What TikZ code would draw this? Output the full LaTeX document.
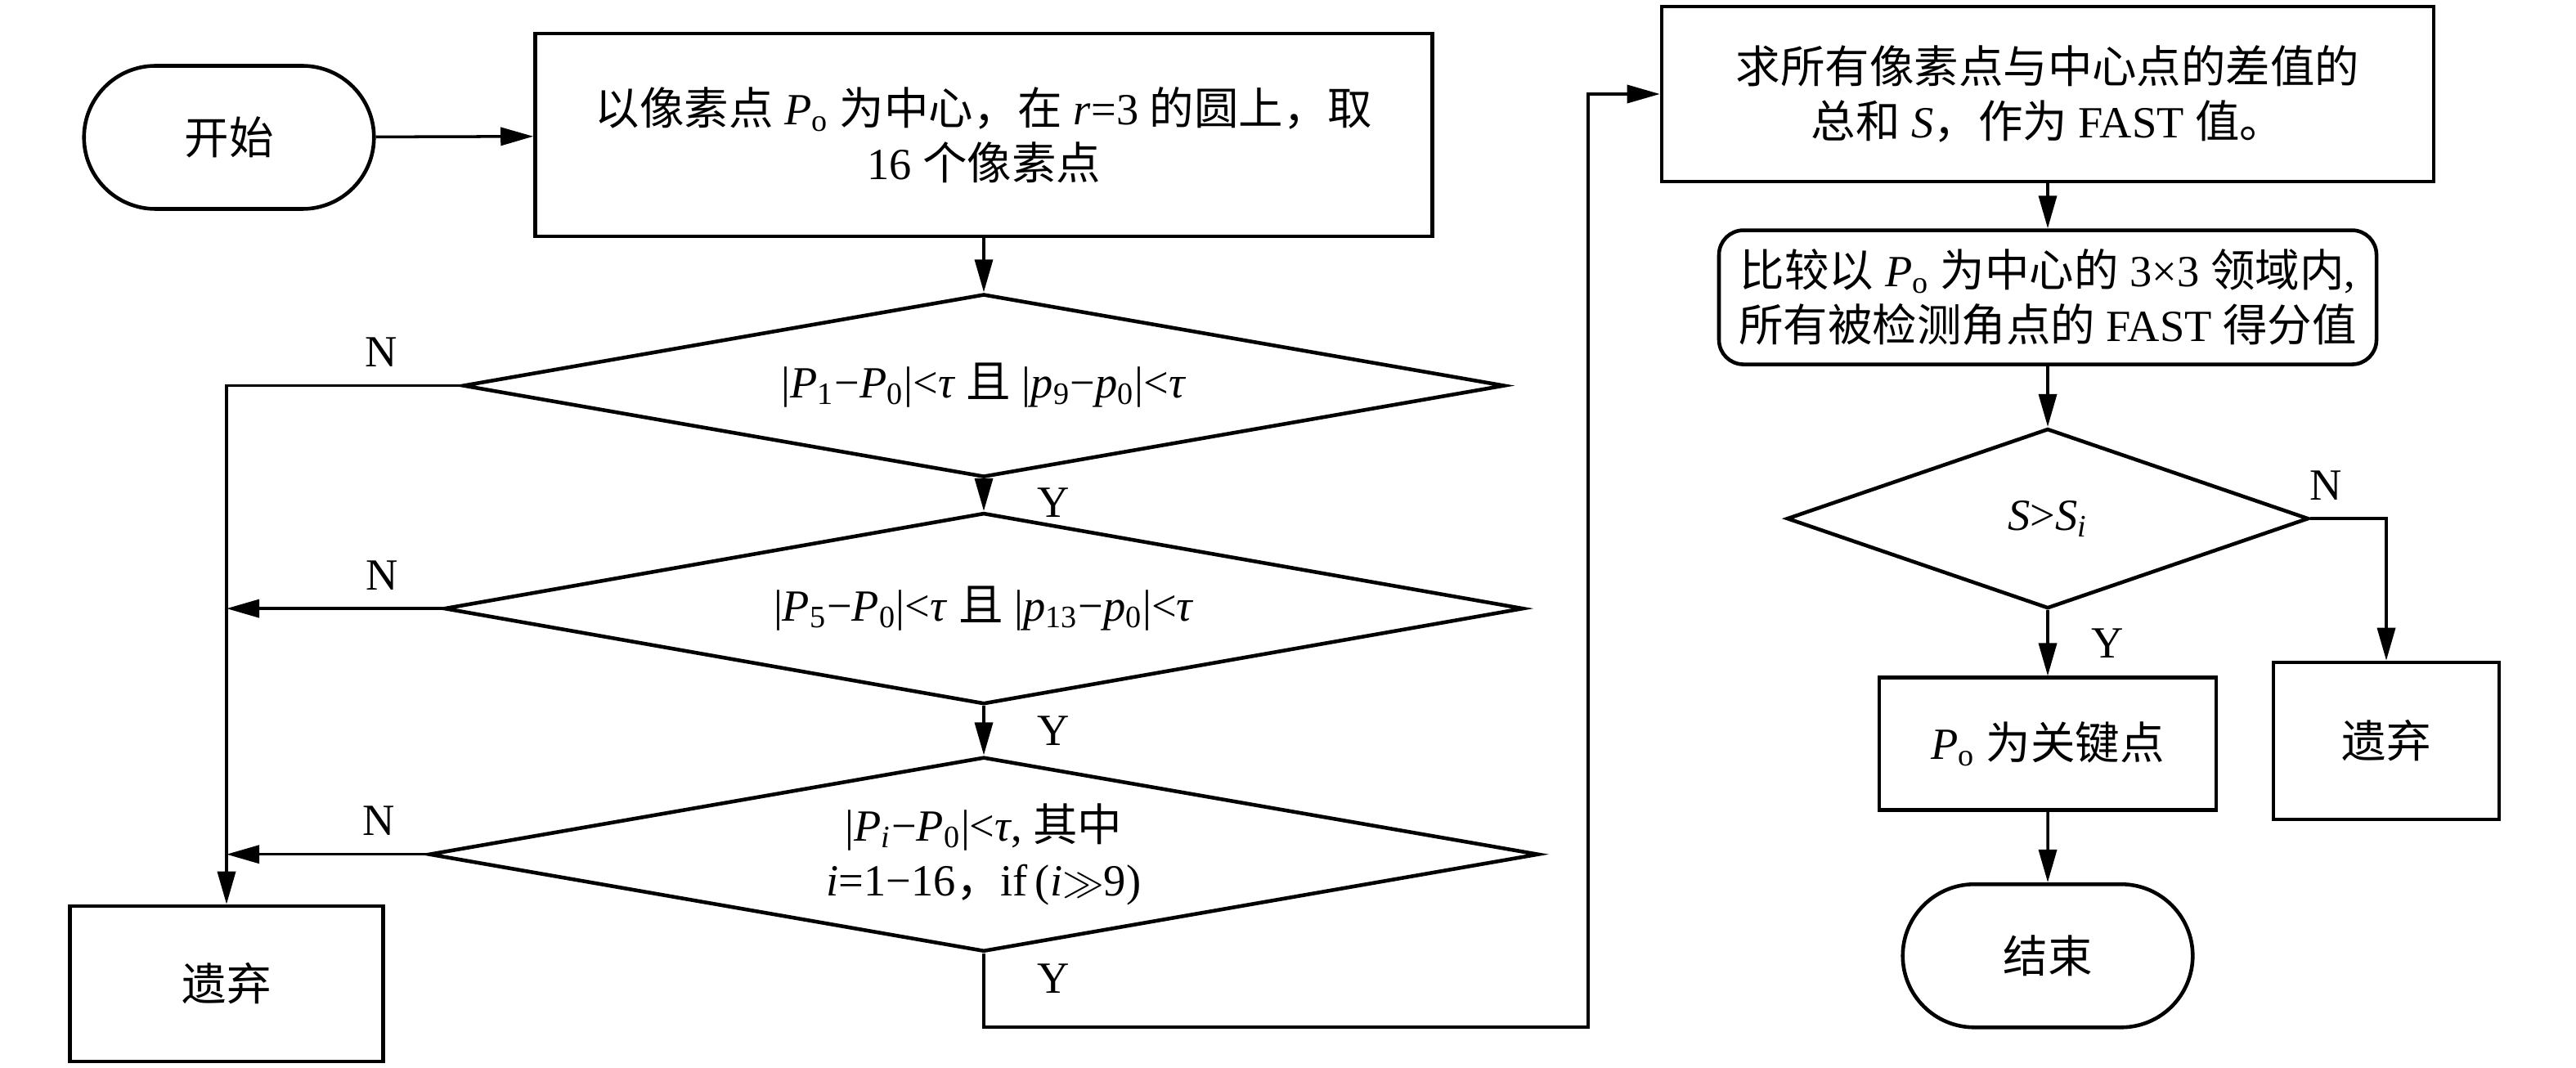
\documentclass[tikz,border=0pt]{standalone}
\usepackage{fontspec}
\setmainfont{Liberation Serif}
\newfontfamily\cjkfont{Noto Sans CJK SC}
\newcommand{\zh}[1]{{\cjkfont #1}}
\usetikzlibrary{arrows.meta, positioning, shapes.geometric, shapes.misc}

\begin{document}
\begin{tikzpicture}[
    node distance=6.6mm,
    font=\fontsize{15.5}{19}\selectfont,
    box/.style={draw, line width=1.3pt, align=center, inner sep=2pt},
    rbox/.style={box, rounded corners=3mm},
    term/.style={draw, line width=1.3pt, rounded rectangle, minimum width=3.78cm, minimum height=1.75cm},
    decision/.style={draw, line width=1.3pt, diamond, inner sep=0pt, align=center},
    arrow/.style={-{Triangle[length=4mm, width=2.2mm]}, line width=1pt},
    lbl/.style={inner sep=1pt}
  ]
  \useasboundingbox (0,0) rectangle (31.5,-13.05);
  % left column
  \node[term] (start) at (2.80,-1.68) {\zh{开始}};
  \node[box, minimum width=10.97cm, minimum height=2.48cm] (pick) at (12.03,-1.65)
    {\zh{以像素点} \textit{P}\textsubscript{o} \zh{为中心，在} \textit{r}=3 \zh{的圆上，取}\\16 \zh{个像素点}};
  \node[decision, below=of pick, aspect=5.69, minimum width=12.74cm, minimum height=2.24cm] (chk1)
    {|\textit{P}\textsubscript{1}−\textit{P}\textsubscript{0}|<\textit{τ} \zh{且} |\textit{p}\textsubscript{9}−\textit{p}\textsubscript{0}|<\textit{τ}};
  \node[decision, below=3.9mm of chk1, aspect=5.64, minimum width=13.2cm, minimum height=2.34cm] (chk2)
    {|\textit{P}\textsubscript{5}−\textit{P}\textsubscript{0}|<\textit{τ} \zh{且} |\textit{p}\textsubscript{13}−\textit{p}\textsubscript{0}|<\textit{τ}};
  \node[decision, below=6mm of chk2, aspect=5.70, minimum width=13.57cm, minimum height=2.38cm] (chk3)
    {|\textit{P}\textsubscript{\textit{i}}−\textit{P}\textsubscript{0}|<\textit{τ}, \zh{其中}\\\textit{i}=1−16\zh{，}if\,(\textit{i}$\gg$9)};
  \node[box, minimum width=3.83cm, minimum height=1.9cm] (drop1) at (2.77,-12.03) {\zh{遗弃}};
  % right column
  \node[box, minimum width=9.44cm, minimum height=2.14cm] (sum) at (25.04,-1.15)
    {\zh{求所有像素点与中心点的差值的}\\\zh{总和} \textit{S}\zh{，作为} FAST \zh{值。}};
  \node[rbox, below=5.5mm of sum, minimum width=8.04cm, minimum height=1.64cm] (cmp)
    {\zh{比较以} \textit{P}\textsubscript{o} \zh{为中心的} 3×3 \zh{领域内},\\\zh{所有被检测角点的} FAST \zh{得分值}};
  \node[decision, below=7.4mm of cmp, aspect=2.9, minimum width=6.38cm, minimum height=2.2cm] (chk4)
    {\textit{S}>\textit{S}\textsubscript{\textit{i}}};
  \node[box, below=8mm of chk4, minimum width=4.12cm, minimum height=1.62cm] (key)
    {\textit{P}\textsubscript{o} \zh{为关键点}};
  \node[term, below=8.6mm of key] (done) {\zh{结束}};
  \node[box, minimum width=2.76cm, minimum height=1.92cm] (drop2) at (29.18,-9.06) {\zh{遗弃}};
  \coordinate (loop) at (19.42,-12.56);

  \draw[arrow] (start) -- (pick);
  \draw[arrow] (pick) -- (chk1);
  \draw[arrow] (chk1) -- node[lbl, pos=0.74, right=6mm] (y1) {Y} (chk2);
  \draw[arrow] (chk2) -- node[lbl, pos=0.5, right=6mm] (y2) {Y} (chk3);
  \draw[arrow] (chk1.west) -| node[lbl, pos=0.17, above=5pt] (n1) {N} (drop1.north);
  \draw[arrow] (chk2.west) -- node[lbl, pos=0.28, above=5pt] (n2) {N} (chk2.west -| drop1.north);
  \draw[arrow] (chk3.west) -- node[lbl, pos=0.24, above=5pt] (n3) {N} (chk3.west -| drop1.north);
  \draw[arrow] (chk3.south) |- node[lbl, pos=0.17, right=6mm] (y3) {Y} (loop) |- (sum.west);
  \draw[arrow] (sum) -- (cmp);
  \draw[arrow] (cmp) -- (chk4);
  \draw[arrow] (chk4) -- node[lbl, pos=0.5, right=4.8mm] (y4) {Y} (key);
  \draw[arrow] (chk4.east) -| node[lbl, pos=0.1, above=5pt] (n4) {N} (drop2.north);
  \draw[arrow] (key) -- (done);
\end{tikzpicture}
\end{document}
